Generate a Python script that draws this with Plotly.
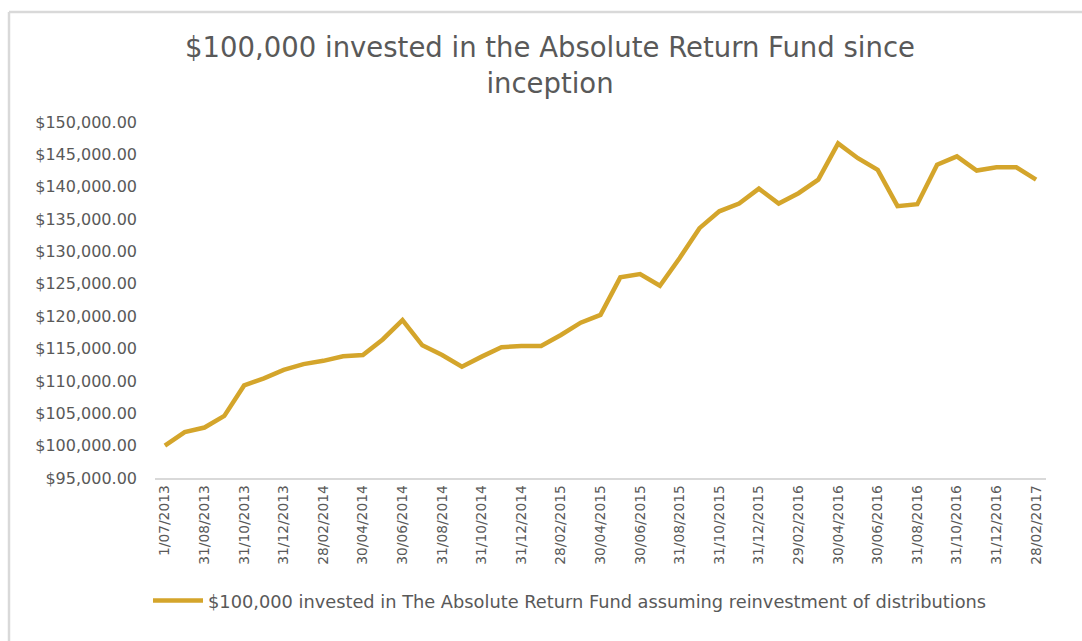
import plotly.graph_objects as go

dates = [
    "1/07/2013", "31/07/2013", "31/08/2013", "30/09/2013", "31/10/2013", "30/11/2013", "31/12/2013",
    "31/01/2014", "28/02/2014", "31/03/2014", "30/04/2014", "31/05/2014", "30/06/2014",
    "31/07/2014", "31/08/2014", "30/09/2014", "31/10/2014", "30/11/2014", "31/12/2014",
    "31/01/2015", "28/02/2015", "31/03/2015", "30/04/2015", "31/05/2015", "30/06/2015",
    "31/07/2015", "31/08/2015", "30/09/2015", "31/10/2015", "30/11/2015", "31/12/2015",
    "31/01/2016", "29/02/2016", "31/03/2016", "30/04/2016", "31/05/2016", "30/06/2016",
    "31/07/2016", "31/08/2016", "30/09/2016", "31/10/2016", "30/11/2016", "31/12/2016",
    "31/01/2017", "28/02/2017",
]

values = [
    100000, 102100, 102800, 104600, 109300, 110400, 111700, 112600, 113100, 113800,
    114000, 116400, 119400, 115500, 114000, 112200, 113750, 115200, 115400, 115400,
    117100, 119000, 120200, 126000, 126500, 124700, 129000, 133600, 136200, 137400,
    139700, 137400, 139000, 141100, 146700, 144400, 142600, 137000, 137300, 143400,
    144700, 142500, 143000, 143000, 141100,
]

tick_labels = dates[::2]

series_name = "$100,000 invested in The Absolute Return Fund assuming reinvestment of distributions"
title_text = "$100,000 invested in the Absolute Return Fund since<br>inception"

W, H = 1082, 641
L, R, T, B = 155, 36, 122, 163
pw = W - L - R
ph = H - T - B

font_family = "DejaVu Sans, sans-serif"
grey = "#595959"
line_color = "#D4A52B"

fig = go.Figure()
fig.add_trace(go.Scatter(
    x=dates, y=values, mode="lines", name=series_name,
    line=dict(color=line_color, width=4.5),
))

def px2paperx(px):
    return (px - L) / pw

def px2papery(py):
    return (H - B - py) / ph

fig.update_layout(
    width=W, height=H,
    margin=dict(l=L, r=R, t=T, b=B),
    paper_bgcolor="white", plot_bgcolor="white",
    font=dict(family=font_family, color=grey, size=16),
    title=dict(
        text=title_text, x=550 / W, xref="container", xanchor="center",
        y=1 - 57 / H, yref="container", yanchor="top",
        font=dict(size=27.5, color=grey, family=font_family),
    ),
    showlegend=True,
    legend=dict(
        orientation="h", x=148 / W, xref="container", xanchor="left",
        y=1 - 601 / H, yref="container", yanchor="middle",
        font=dict(size=17.8, color=grey), itemwidth=50,
    ),
    xaxis=dict(
        type="category", range=[-0.5, len(dates) - 0.5],
        tickmode="array", tickvals=tick_labels, ticktext=tick_labels,
        tickangle=-90, tickfont=dict(size=13.8, color=grey),
        showline=True, linecolor="#D9D9D9", linewidth=1.5,
        showgrid=False, ticks="", zeroline=False,
    ),
    yaxis=dict(
        range=[95000, 150000], dtick=5000, tick0=95000,
        tickformat="$,.2f", tickfont=dict(size=16, color=grey),
        showgrid=False, zeroline=False, showline=False, ticks="",
        ticklabelstandoff=17,
    ),
    shapes=[
        dict(type="line", xref="paper", yref="paper",
             x0=px2paperx(9), x1=px2paperx(9), y0=px2papery(12), y1=px2papery(700),
             line=dict(color="#D9D9D9", width=2.5)),
        dict(type="line", xref="paper", yref="paper",
             x0=px2paperx(9), x1=px2paperx(1100), y0=px2papery(12), y1=px2papery(12),
             line=dict(color="#D9D9D9", width=2.5)),
    ],
)

fig.write_html("out.html")
